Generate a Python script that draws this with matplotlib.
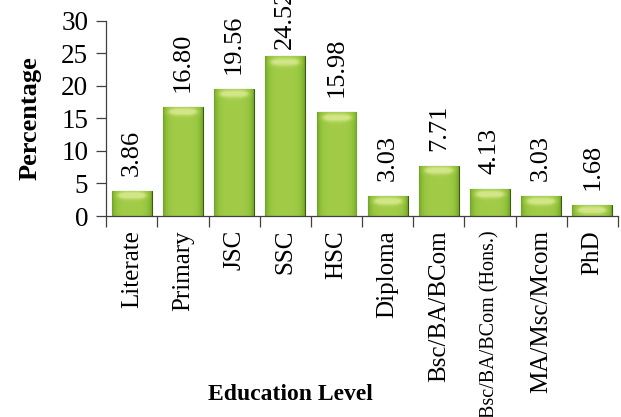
import numpy as np
import matplotlib.pyplot as plt
from matplotlib.colors import LinearSegmentedColormap

plt.rcParams['font.family'] = ['Liberation Serif', 'DejaVu Serif']

# Data
levels = ['Literate', 'Primary', 'JSC', 'SSC', 'HSC', 'Diploma',
          'Bsc/BA/BCom', 'Bsc/BA/BCom (Hons.)', 'MA/Msc/Mcom', 'PhD']
percent = [3.86, 16.80, 19.56, 24.52, 15.98, 3.03, 7.71, 4.13, 3.03, 1.68]
value_labels = ['3.86', '16.80', '19.56', '24.52', '15.98',
                '3.03', '7.71', '4.13', '3.03', '1.68']

fig = plt.figure(figsize=(6.21, 4.17), dpi=100)
ax = fig.add_axes([0.171, 0.482, 0.824, 0.468])

x = np.arange(len(levels))
width = 0.78
bars = ax.bar(x, percent, width=width, color='#8dbf3a',
              edgecolor='#3f5a14', linewidth=0.8, zorder=2)

# glossy green fill: darker sides, light band near the top
cmap = LinearSegmentedColormap.from_list(
    'gloss', ['#4f7418', '#7aab2c', '#8fc03a', '#a2cc48', '#d2e688'])
xs = np.linspace(-1, 1, 60)
side = 1 - np.abs(xs) ** 4
for b in bars:
    x0, y0 = b.get_x(), b.get_y()
    w, h = b.get_width(), b.get_height()
    h_px = max(h / 30 * 195, 1)
    ys = np.linspace(0, h_px, 80)
    top = np.exp(-((h_px - ys - 5) / 3.5) ** 2)
    img = np.clip(0.55 * side[None, :] + 0.2 + 0.35 * top[:, None] * side[None, :], 0, 1)
    im = ax.imshow(img, cmap=cmap, vmin=0, vmax=1, origin='lower',
                   extent=[x0, x0 + w, y0, y0 + h], aspect='auto',
                   interpolation='bilinear', zorder=2)
    im.set_clip_path(b)

# labels sit above the bars, squeezed down for the tallest one
for xi, v, lab in zip(x, percent, value_labels):
    off = min(2.3, 25.6 - v)
    ax.text(xi, v + off, lab, rotation=90, ha='center', va='bottom',
            fontsize=19, color='black', clip_on=False)

ax.set_xlim(-0.5, len(levels) - 0.5)
ax.set_ylim(0, 30)
ax.set_yticks(range(0, 31, 5))
ax.tick_params(axis='y', labelsize=19.5, length=7, width=0.9, color='#404040',
               direction='out', pad=6)

ax.set_xticks(x)
ax.set_xticklabels(levels, rotation=90, fontsize=18)
ax.tick_params(axis='x', length=0, pad=10)
ax.set_xticks(np.arange(-0.5, len(levels), 1), minor=True)
ax.tick_params(axis='x', which='minor', length=8, width=0.9, color='#404040',
               direction='out')
for t in ax.get_xticklabels():
    if '(' in t.get_text():
        t.set_fontsize(14.5)
        t.set_fontstretch('condensed')

for s in ['top', 'right']:
    ax.spines[s].set_visible(False)
for s in ['left', 'bottom']:
    ax.spines[s].set_color('#404040')
    ax.spines[s].set_linewidth(0.9)

ax.set_ylabel('Percentage', fontsize=19, fontweight='bold', labelpad=14)
fig.text(0.467, 0.053, 'Education Level', fontsize=17, fontweight='bold',
         ha='center', va='center')

fig.savefig('out.png', dpi=100)
